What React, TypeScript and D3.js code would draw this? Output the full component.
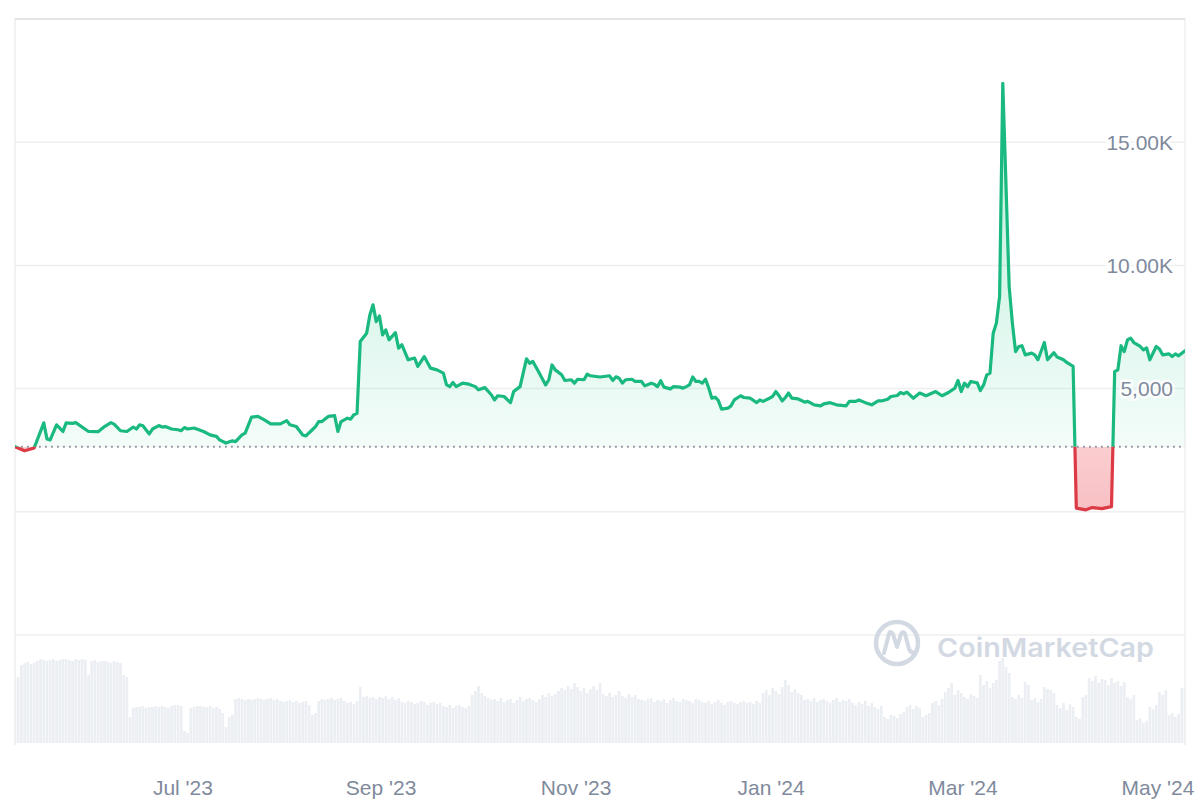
import React from 'react';
import * as d3 from 'd3';

// ---------- data ----------
const START_DATE = '2023-05-09';
const END_DATE = '2024-05-09';
const BASELINE_PRICE = 2640;

// day offset from START_DATE
const priceDay = [
  0, 3, 6, 9, 10, 11, 13, 15, 16, 18, 19, 23, 26, 28, 30, 31, 33, 35, 37, 38, 39, 40, 42, 43, 45, 46, 47, 49,
  51, 52, 53, 54, 56, 59, 61, 63, 64, 66, 68, 69, 71, 72, 74, 76, 78, 80, 83, 85, 86, 88, 90, 91, 93, 94, 95,
  96, 98, 100, 101, 102, 104, 105, 106, 107, 108, 110, 111, 112, 113, 114, 115, 116, 117, 119, 120, 121, 123,
  125, 126, 128, 130, 132, 134, 135, 136, 137, 138, 140, 142, 144, 145, 147, 149, 150, 151, 153, 155, 156, 158,
  160, 161, 162, 164, 166, 167, 168, 169, 171, 172, 174, 175, 176, 178, 179, 180, 183, 186, 187, 188, 189, 190,
  191, 193, 194, 196, 197, 199, 200, 201, 202, 203, 205, 206, 208, 209, 210, 211, 212, 213, 214, 215, 216, 217,
  218, 219, 220, 221, 223, 224, 225, 227, 228, 230, 232, 233, 234, 236, 237, 238, 239, 240, 241, 242, 243, 245,
  246, 247, 248, 250, 252, 253, 255, 257, 260, 261, 263, 264, 266, 268, 270, 271, 273, 274, 276, 277, 278, 279,
  281, 283, 285, 288, 290, 292, 294, 295, 296, 297, 298, 299, 301, 302, 303, 304, 305, 306, 307, 308, 309, 311,
  312, 313, 314, 315, 316, 318, 319, 320, 322, 323, 325, 326, 328, 329, 331, 332, 335, 337, 340, 343, 344, 345,
  346, 347, 348, 349, 350, 352, 353, 354, 355, 357, 358, 359, 361, 362, 363, 364, 366,
];

const priceUsd = [
  2640, 2480, 2590, 3610, 2960, 2920, 3530, 3260, 3610, 3590, 3620, 3260, 3250, 3460, 3620, 3560, 3290, 3260,
  3440, 3360, 3530, 3490, 3160, 3360, 3500, 3440, 3460, 3360,
  3330, 3290, 3420, 3360, 3400, 3260, 3120, 3060, 2920, 2790, 2880, 2850, 3120, 3190, 3840, 3870, 3730, 3570,
  3570, 3700, 3530, 3460, 3120, 3080, 3330, 3460, 3660,
  3660, 3870, 3900, 3260, 3660, 3800, 3760, 3940, 4000, 6910, 7250, 7990, 8400, 7720, 7950, 7180, 7380, 6980,
  7270, 6640, 6780, 6170,
  6240, 5900, 6300, 5830, 5760, 5630, 5150, 5080, 5250, 5080, 5220, 5180, 5080, 4950, 5040, 4750, 4540, 4710,
  4680, 4430, 4880, 5080,
  6210, 6030, 6100, 5630, 5150, 5360, 5960, 5760, 5560, 5330, 5360, 5220, 5380, 5360, 5590, 5520, 5470, 5520,
  5330, 5480, 5420, 5220,
  5360, 5380, 5290, 5290, 5110, 5220, 5180, 5080, 5320, 5060, 4990, 5080, 5060, 5020, 5080, 5150, 5470, 5290,
  5290, 5220, 5380, 5030,
  4610, 4650, 4520, 4170, 4210, 4300, 4540, 4710, 4640, 4610, 4430, 4540, 4480, 4610, 4680, 4880, 4710, 4500,
  4640, 4820, 4610, 4580,
  4520, 4450, 4480, 4340, 4300, 4380, 4430, 4340, 4300, 4480, 4480, 4540, 4430, 4340, 4500, 4500, 4570, 4680,
  4720, 4840, 4790, 4860,
  4610, 4820, 4710, 4880, 4710, 4840, 5020, 5330, 4880, 5220, 5080, 5290, 5230, 4920, 5150, 5560, 5630, 7250,
  7660, 8740, 17390, 9140,
  7660, 6500, 6710, 6740, 6370, 6440, 6370, 6170, 6870, 6170, 6460, 6280, 6170, 6060, 5900, 150, 80, 170, 130,
  210, 5690, 5760,
  6740, 6500, 6980, 7050, 6870, 6710, 6570, 6650, 6170, 6710, 6610, 6370, 6410, 6300, 6410, 6330, 6540,
];

// daily volume, one bar per day (arbitrary units)
const volumeDaily = [
  64, 66,
  78, 80, 81, 79, 80,
  82, 84, 83, 82, 83, 84, 82, 83, 84, 84, 83, 82, 84, 83, 84, 83,
  68,
  82, 83, 81, 82, 82, 81, 80, 82, 81, 80,
  68, 66,
  26,
  35, 36, 36, 37, 35, 36, 36, 37, 36, 37, 36, 35, 37, 38,
  38, 37,
  12, 10,
  35, 36, 37, 37, 36, 36, 37, 35, 36,
  34, 30,
  16,
  26, 28,
  44, 45, 44, 43, 44, 43, 44, 45, 44, 43, 44, 45, 43, 44, 42, 41, 42, 43,
  41, 42, 40, 41, 42, 38,
  28, 30, 42,
  44, 43, 44, 45, 43, 44, 45, 42,
  40, 41, 39, 42,
  56,
  46, 47, 45, 46, 44, 46, 45, 47, 44, 46, 43, 45,
  41, 40, 42, 41, 39, 40, 42, 41, 38, 40, 41, 39, 40,
  37, 36, 38, 35, 37, 38, 36, 35, 37,
  48, 52, 57, 50, 47, 45,
  43, 44, 42, 45, 41, 43, 44, 40, 43, 46, 42, 44, 45, 43, 41, 44,
  48, 46, 50, 47, 49, 52,
  55, 53, 57, 54, 60, 56, 52, 55, 50, 54, 57, 53,
  60, 49, 47, 50, 46, 48, 52, 47, 45, 49, 46, 48, 44,
  43, 42, 44, 45, 41, 43, 42, 44, 40, 43, 45, 42, 41, 44, 43, 42, 40, 44, 43,
  41, 40, 42, 39, 41, 43, 40, 38, 41, 42, 40, 39, 41, 42, 40, 41, 39, 42, 40,
  50, 53, 48, 55, 52, 49, 56, 63, 58, 51, 54, 50, 48,
  43, 44, 42, 45, 41, 43, 44, 42, 40, 43, 45, 41, 43, 42, 44,
  40, 38, 41, 39, 42, 37, 40,
  36, 34, 37,
  26, 24, 28, 27, 25, 29, 31,
  36, 38, 34, 37, 35,
  26, 28, 30,
  40, 42, 38, 44,
  51, 55, 60, 48, 53, 50,
  46, 44, 49, 47, 45,
  68,
  58, 62, 55, 60, 63,
  82, 85,
  76, 70,
  46, 44, 48, 45,
  61, 58,
  43, 45, 41, 44,
  56, 54,
  53, 50,
  38, 35, 40, 33, 39, 36,
  26, 24,
  46, 48,
  65, 62, 67, 60, 64,
  63, 58, 65, 60, 62, 57, 61,
  46, 44, 48,
  23, 25,
  20, 22,
  36, 34, 38,
  51, 48, 53,
  28, 30, 26, 29,
  55, 56,
];

const yTickValues = [-5000, 0, 5000, 10000, 15000, 20000];
const yTickLabels = ['', '', '5,000', '10.00K', '15.00K', ''];
const xTickDates = ['2023-07-01', '2023-09-01', '2023-11-01', '2024-01-01', '2024-03-01', '2024-05-01'];
const xTickLabels = ["Jul '23", "Sep '23", "Nov '23", "Jan '24", "Mar '24", "May '24"];

// ---------- layout ----------
const W = 1200;
const H = 800;
const PLOT_L = 15;
const PLOT_R = 1185;
const PRICE_TOP = 19;
const PRICE_BOTTOM = 635;
const VOL_TOP = 655;
const VOL_BOTTOM = 743;

const GREEN = '#19b97f';
const GREEN_FILL = '#16c784';
const RED = '#dc3a44';
const AXIS_TEXT = '#808a9d';
const FONT = '"Liberation Sans", Arial, Helvetica, sans-serif';

export default function App() {
  const parse = d3.timeParse('%Y-%m-%d');
  const start = parse(START_DATE) as Date;
  const end = parse(END_DATE) as Date;

  const x = d3.scaleTime().domain([start, end]).range([PLOT_L, PLOT_R]);
  const y = d3.scaleLinear().domain([-5000, 20000]).range([PRICE_BOTTOM, PRICE_TOP]);
  const yVol = d3.scaleLinear().domain([0, 88]).range([VOL_BOTTOM, VOL_TOP]);

  const points = priceDay.map((d, i) => ({ date: d3.timeDay.offset(start, d), value: priceUsd[i] }));
  const baseY = y(BASELINE_PRICE);
  const maxY = y(d3.max(priceUsd) as number);

  const line = d3
    .line<{ date: Date; value: number }>()
    .x((d) => x(d.date))
    .y((d) => y(d.value));
  const area = d3
    .area<{ date: Date; value: number }>()
    .x((d) => x(d.date))
    .y0(baseY)
    .y1((d) => y(d.value));

  const linePath = line(points) || '';
  const areaPath = area(points) || '';

  const dayW = x(d3.timeDay.offset(start, 1)) - x(start);
  const barW = Math.max(dayW - 0.5, 1);

  return (
    <svg
      width={W}
      height={H}
      viewBox={`0 0 ${W} ${H}`}
      style={{ position: 'absolute', left: 0, top: 0, display: 'block', background: '#ffffff' }}
      fontFamily={FONT}
    >
      <defs>
        <clipPath id="clip-above">
          <rect x={PLOT_L} y={0} width={PLOT_R - PLOT_L} height={baseY} />
        </clipPath>
        <clipPath id="clip-below">
          <rect x={PLOT_L} y={baseY} width={PLOT_R - PLOT_L} height={H - baseY} />
        </clipPath>
        <clipPath id="clip-plot">
          <rect x={PLOT_L} y={0} width={PLOT_R - PLOT_L} height={H} />
        </clipPath>
        <linearGradient id="grad-green" gradientUnits="userSpaceOnUse" x1={0} y1={maxY} x2={0} y2={baseY}>
          <stop offset="0%" stopColor={GREEN_FILL} stopOpacity={0.3} />
          <stop offset="100%" stopColor={GREEN_FILL} stopOpacity={0.05} />
        </linearGradient>
        <linearGradient id="grad-red" gradientUnits="userSpaceOnUse" x1={0} y1={baseY} x2={0} y2={y(0)}>
          <stop offset="0%" stopColor="#ea3943" stopOpacity={0.25} />
          <stop offset="100%" stopColor="#ea3943" stopOpacity={0.32} />
        </linearGradient>
      </defs>

      {/* frame */}
      <line x1={PLOT_L} x2={PLOT_L} y1={PRICE_TOP} y2={VOL_BOTTOM + 2} stroke="#eeeeee" strokeWidth={1.5} />
      <line x1={PLOT_R} x2={PLOT_R} y1={PRICE_TOP} y2={VOL_BOTTOM + 2} stroke="#efefef" strokeWidth={1.5} />

      {/* horizontal grid */}
      {yTickValues.map((v, i) => (
        <line
          key={'g' + i}
          x1={PLOT_L}
          x2={PLOT_R}
          y1={y(v)}
          y2={y(v)}
          stroke={v === 20000 ? '#e4e4e4' : '#efefef'}
          strokeWidth={v === 20000 ? 2 : 1.5}
        />
      ))}

      {/* volume bars */}
      <g clipPath="url(#clip-plot)">
        {volumeDaily.map((v, i) => {
          const cx = x(d3.timeDay.offset(start, i));
          return (
            <rect
              key={'v' + i}
              x={cx - barW / 2}
              y={yVol(v)}
              width={barW}
              height={VOL_BOTTOM - yVol(v)}
              fill="#ebeef2"
            />
          );
        })}
      </g>

      {/* watermark */}
      <g>
        <circle cx={897} cy={643} r={21} fill="none" stroke="#d3d9e3" strokeWidth={4.5} />
        <path
          d="M 884 653 L 889 634 Q 890 630 893 634 L 897 647 L 901 634 Q 903 630 905 634 L 909 649 Q 911 654 916 652"
          fill="none"
          stroke="#d3d9e3"
          strokeWidth={4}
          strokeLinecap="round"
          strokeLinejoin="round"
        />
        <text
          x={937}
          y={657}
          fontFamily='Inter, "Open Sans", sans-serif'
          fontWeight={600}
          fontSize={26}
          fill="#d3d9e3"
          textLength={217}
          lengthAdjust="spacingAndGlyphs"
        >
          CoinMarketCap
        </text>
      </g>

      {/* areas */}
      <path d={areaPath} fill="url(#grad-green)" clipPath="url(#clip-above)" />
      <path d={areaPath} fill="url(#grad-red)" clipPath="url(#clip-below)" />

      {/* baseline dotted */}
      <line
        x1={PLOT_L}
        x2={PLOT_R}
        y1={baseY}
        y2={baseY}
        stroke="#8f96a3"
        strokeWidth={1.8}
        strokeDasharray="1.8 4.2"
      />

      {/* price line */}
      <path
        d={linePath}
        fill="none"
        stroke={GREEN}
        strokeWidth={3.2}
        strokeLinejoin="round"
        strokeLinecap="round"
        clipPath="url(#clip-above)"
      />
      <path
        d={linePath}
        fill="none"
        stroke={RED}
        strokeWidth={3.2}
        strokeLinejoin="round"
        strokeLinecap="round"
        clipPath="url(#clip-below)"
      />

      {/* y labels */}
      {yTickValues.map((v, i) =>
        yTickLabels[i] ? (
          <text
            key={'yl' + i}
            x={1173}
            y={y(v) + 7.5}
            textAnchor="end"
            fontSize={21}
            fill={AXIS_TEXT}
            stroke="#ffffff"
            strokeWidth={5}
            strokeOpacity={0.85}
            paintOrder="stroke"
          >
            {yTickLabels[i]}
          </text>
        ) : null
      )}

      {/* x labels */}
      {xTickDates.map((d, i) => (
        <text
          key={'xl' + i}
          x={x(parse(d) as Date) - 1.5}
          y={795}
          textAnchor="middle"
          fontSize={21}
          fill={AXIS_TEXT}
        >
          {xTickLabels[i]}
        </text>
      ))}
    </svg>
  );
}
